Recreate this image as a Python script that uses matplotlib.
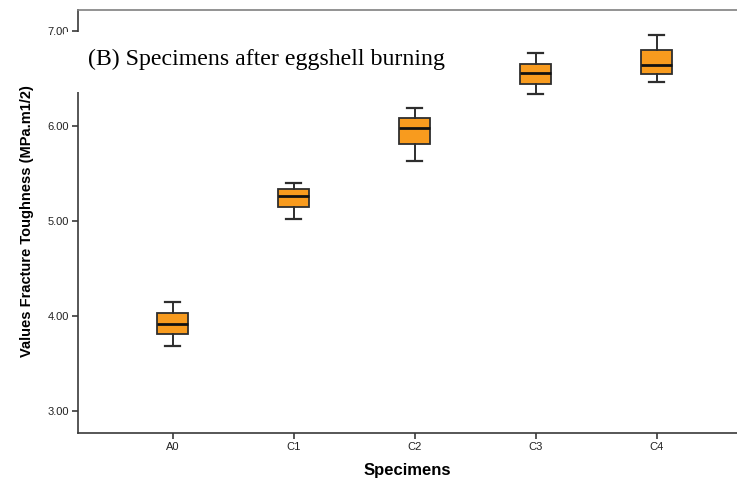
import matplotlib
matplotlib.use("Agg")
import matplotlib.pyplot as plt
import matplotlib.patches as mpatches

# Box plot summary values (MPa.m1/2)
specimens = ["A0", "C1", "C2", "C3", "C4"]
whisker_low = [3.68, 5.02, 5.63, 6.335, 6.46]
q1 = [3.81, 5.145, 5.81, 6.44, 6.55]
median = [3.92, 5.265, 5.975, 6.555, 6.645]
q3 = [4.035, 5.335, 6.08, 6.65, 6.80]
whisker_high = [4.15, 5.40, 6.19, 6.765, 6.96]

y_ticks = [3.0, 4.0, 5.0, 6.0, 7.0]

stats = [
    {"label": s, "whislo": lo, "q1": a, "med": m, "q3": b, "whishi": hi, "fliers": []}
    for s, lo, a, m, b, hi in zip(specimens, whisker_low, q1, median, q3, whisker_high)
]

fig = plt.figure(figsize=(7.37, 4.79), dpi=100)
ax = fig.add_axes([78 / 737, 1 - 433 / 479, 1 - 78 / 737, (433 - 10) / 479])

spine_col = "#3a3a3a"
ax.bxp(
    stats,
    positions=range(len(specimens)),
    widths=0.25,
    patch_artist=True,
    showfliers=False,
    capwidths=0.12,
    boxprops=dict(facecolor="#F89B1E", edgecolor="#2e2e2e", linewidth=1.3),
    medianprops=dict(color="#111111", linewidth=2.0),
    whiskerprops=dict(color="#2e2e2e", linewidth=1.4),
    capprops=dict(color="#2e2e2e", linewidth=1.6),
)

ax.set_xlim(-0.781, 4.665)
ax.set_ylim(2.768, 7.22)
ax.set_yticks(y_ticks)
ax.set_yticklabels([f"{v:.2f}" for v in y_ticks])
ax.set_xticks(range(len(specimens)))
ax.set_xticklabels(specimens)

for lab in ax.get_xticklabels() + ax.get_yticklabels():
    lab.set_family("Liberation Sans")
    lab.set_fontsize(8)
    lab.set_color("#222222")
ax.tick_params(axis="both", length=4, width=1.2, color=spine_col, pad=2.5)

ax.spines["right"].set_visible(False)
for side in ("left", "bottom", "top"):
    ax.spines[side].set_color(spine_col)
    ax.spines[side].set_linewidth(1.2)
ax.spines["top"].set_color("#808080")

ax.set_xlabel("Specimens", family="Liberation Sans", fontweight="bold", fontsize=12, labelpad=8)
ax.set_ylabel("Values Fracture Toughness (MPa.m1/2)", family=["Liberation Sans Narrow", "Liberation Sans"],
              fontweight="bold", fontsize=10.5, labelpad=10)

# white label box laid over the axes, as in the source figure
fig.patches.append(mpatches.Rectangle((64 / 737, 1 - 92 / 479), (460 - 64) / 737, 60 / 479,
                                      transform=fig.transFigure, facecolor="white", edgecolor="none",
                                      zorder=5))
fig.text(88 / 737, 1 - 59 / 479, "(B) Specimens after eggshell burning", family="Liberation Serif",
         fontsize=17.2, va="center", ha="left", zorder=6)

fig.savefig("out.png", dpi=100)
